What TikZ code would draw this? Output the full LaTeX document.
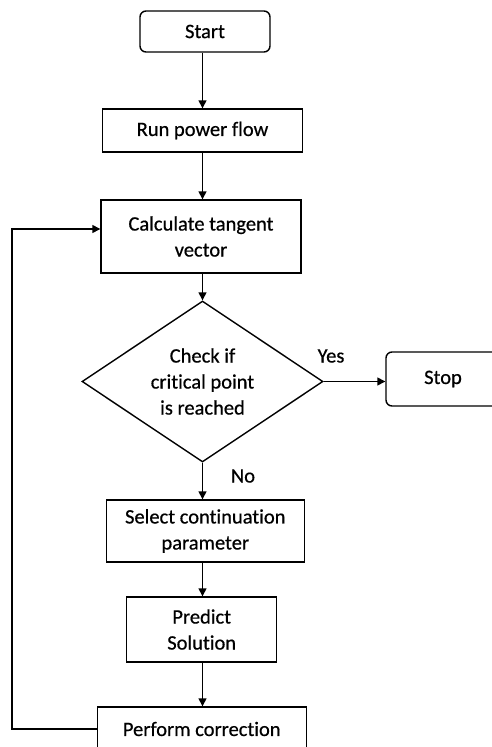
\documentclass[tikz,border=0pt]{standalone}
\usepackage{fontspec}
\setmainfont{Carlito}[Ligatures=CommonOff,FakeBold=0.6]
\usetikzlibrary{shapes.geometric,arrows.meta,calc}
\begin{document}
\begin{tikzpicture}[x=1pt,y=-1pt,
  font=\fontsize{20.5}{26}\selectfont,
  every node/.style={inner sep=0pt},
  box/.style={draw,line width=1.4pt,align=center},
  term/.style={box,rounded corners=6pt},
  arr/.style={line width=1.4pt,-{Triangle[length=8pt,width=8pt]}},
  lbl/.style={font=\fontsize{20.5}{24}\selectfont}]
\useasboundingbox (0,0) rectangle (491,747);
\node[term,minimum width=130pt,minimum height=41pt] (start) at (205,31.5) {Start};
\node[box,minimum width=200pt,minimum height=43pt] (run) at (202.5,130.5) {Run power flow};
\node[box,minimum width=200pt,minimum height=73pt] (calc) at (201,236.5) {Calculate tangent\\vector};
\node[diamond,draw,line width=1.4pt,minimum width=241pt,minimum height=161pt,
  label={[align=center]center:Check if\\critical point\\is reached}] (dec) at (202.5,381.5) {};
\node[term,minimum width=114pt,minimum height=54pt] (stop) at (443,379) {Stop};
\node[box,minimum width=198pt,minimum height=62pt] (sel) at (205.3,531) {Select continuation\\parameter};
\node[box,minimum width=150pt,minimum height=65pt] (pred) at (201.7,629.5) {Predict\\Solution};
\node[box,minimum width=209pt,minimum height=44pt] (perf) at (201.7,729) {Perform correction};
\node[lbl] (yes) at (331,356) {Yes};
\node[lbl] (no) at (243,476) {No};
\coordinate (lt) at (12,229);
\draw[arr] (start.south -| dec.north) -- (run.north -| dec.north);
\draw[arr] (run.south -| dec.north) -- (calc.north -| dec.north);
\draw[arr] (calc.south -| dec.north) -- (dec.north);
\draw[arr] (dec.east) -- (dec.east -| stop.west);
\draw[arr] (dec.south) -- (sel.north -| dec.south);
\draw[arr] (sel.south -| dec.south) -- (pred.north -| dec.south);
\draw[arr] (pred.south -| dec.south) -- (perf.north -| dec.south);
\draw[arr] (perf.west) -| (lt) -- (lt -| calc.west);
\end{tikzpicture}
\end{document}
